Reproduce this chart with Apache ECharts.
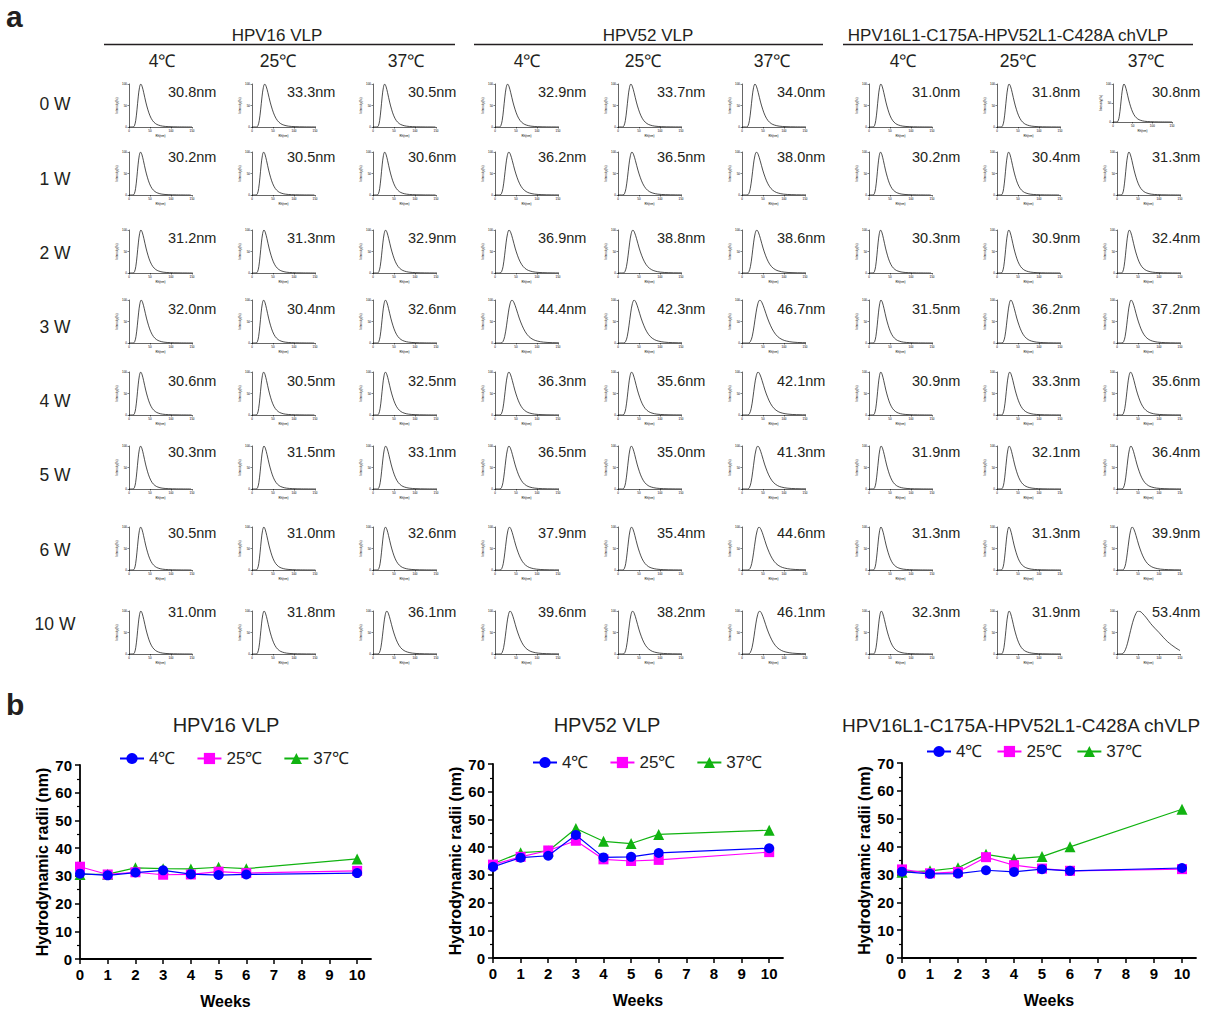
<!DOCTYPE html>
<html>
<head>
<meta charset="utf-8">
<script src="https://cdn.jsdelivr.net/npm/echarts@6.0.0/dist/echarts.min.js"></script>
<style>
html,body{margin:0;padding:0;background:#fff;}
#chart{width:1211px;height:1012px;}
</style>
</head>
<body>
<div id="chart"></div>
<script>
// ---------------- DATA ----------------
const groupNames = ['HPV16 VLP', 'HPV52 VLP', 'HPV16L1-C175A-HPV52L1-C428A chVLP'];
const tempNames = ['4℃', '25℃', '37℃'];
const weekLabels = ['0 W', '1 W', '2 W', '3 W', '4 W', '5 W', '6 W', '10 W'];
const weeks = [0, 1, 2, 3, 4, 5, 6, 10];
const weekTicks = [0, 1, 2, 3, 4, 5, 6, 7, 8, 9, 10];

const hpv16_4C  = [30.8, 30.2, 31.2, 32.0, 30.6, 30.3, 30.5, 31.0];
const hpv16_25C = [33.3, 30.5, 31.3, 30.4, 30.5, 31.5, 31.0, 31.8];
const hpv16_37C = [30.5, 30.6, 32.9, 32.6, 32.5, 33.1, 32.6, 36.1];
const hpv52_4C  = [32.9, 36.2, 36.9, 44.4, 36.3, 36.5, 37.9, 39.6];
const hpv52_25C = [33.7, 36.5, 38.8, 42.3, 35.6, 35.0, 35.4, 38.2];
const hpv52_37C = [34.0, 38.0, 38.6, 46.7, 42.1, 41.3, 44.6, 46.1];
const chvlp_4C  = [31.0, 30.2, 30.3, 31.5, 30.9, 31.9, 31.3, 32.3];
const chvlp_25C = [31.8, 30.4, 30.9, 36.2, 33.3, 32.1, 31.3, 31.9];
const chvlp_37C = [30.8, 31.3, 32.4, 37.2, 35.6, 36.4, 39.9, 53.4];

// size-distribution profiles (Rh in nm, intensity %)
const narrowRefRadius = 30.8;
const narrowRh        = [0, 10, 13, 16, 19, 22, 25, 28, 31, 35, 40, 45, 50, 56, 63, 70, 80, 95, 115, 150];
const narrowIntensity = [0, 0, 3, 15, 40, 70, 92, 100, 95, 80, 58, 40, 26, 15, 8, 4.5, 2, 0.8, 0.3, 0];
const wideRefRadius = 53.4;
const wideRh        = [0, 10, 15, 20, 25, 30, 35, 40, 45, 50, 55, 60, 70, 80, 90, 100, 110, 120, 130, 140, 150];
const wideIntensity = [0, 0, 2, 10, 25, 45, 65, 82, 94, 100, 99, 95, 84, 71, 60, 50, 39, 29, 21, 14, 8];

// ---------------- LAYOUT ----------------
const FONT = '"Liberation Sans", Arial, sans-serif';
const columns = [hpv16_4C, hpv16_25C, hpv16_37C, hpv52_4C, hpv52_25C, hpv52_37C, chvlp_4C, chvlp_25C, chvlp_37C];
const colAxisX = [129, 252, 373, 495, 618, 742, 869, 997, 1117];
const colTextX = [168, 287, 408, 538, 657, 777, 912, 1032, 1152];
const rowTop = [84, 152, 230, 300, 372, 446, 527, 611];
const rowTextY = [92, 157, 238, 309, 381, 452, 533, 612];
const rowLabelY = [104, 179, 253, 327, 401, 475, 550, 624];
const headerCenters = [277, 648, 1008];
const headerLines = [[104, 455], [474, 823], [843, 1193]];
const tempCenters = [162, 278, 406, 527, 643, 772, 903, 1018, 1146];

const grids = [], xAxes = [], yAxes = [], series = [], graphics = [];

function txt(text, x, y, size, opts) {
  opts = opts || {};
  return {
    type: 'text', silent: true,
    style: {
      text: text, x: x, y: y,
      font: (opts.weight || 'normal') + ' ' + size + 'px ' + FONT,
      fill: opts.fill || '#231f20',
      align: opts.align || 'center', textAlign: opts.align || 'center',
      verticalAlign: 'middle', textVerticalAlign: 'middle'
    }
  };
}

graphics.push(txt('a', 6, 16, 30, {weight: 'bold', align: 'left'}));
graphics.push(txt('b', 6, 704, 30, {weight: 'bold', align: 'left'}));
groupNames.forEach((g, i) => {
  graphics.push(txt(g, headerCenters[i], 35, 17));
  graphics.push({type: 'line', silent: true,
    shape: {x1: headerLines[i][0], y1: 44.5, x2: headerLines[i][1], y2: 44.5},
    style: {stroke: '#231f20', lineWidth: 1.3}});
});
for (let c = 0; c < 9; c++) graphics.push(txt(tempNames[c % 3], tempCenters[c], 61, 17.5));
weekLabels.forEach((w, r) => graphics.push(txt(w, 55, rowLabelY[r], 17.5)));

for (let r = 0; r < weeks.length; r++) {
  for (let c = 0; c < 9; c++) {
    const idx = grids.length;
    const R = columns[c][r];
    let g = {left: colAxisX[c], top: rowTop[r], width: 63, height: 43};
    if (r === 0 && c === 8) g = {left: 1113, top: 84, width: 59, height: 38};
    grids.push(g);
    const axCommon = {
      gridIndex: idx, type: 'value',
      axisLine: {lineStyle: {color: '#000', width: 0.6}},
      axisTick: {length: 1.5, lineStyle: {color: '#000', width: 0.5}},
      axisLabel: {fontSize: 3, margin: 2, color: '#000', fontFamily: FONT},
      splitLine: {show: false},
      nameLocation: 'middle',
      nameTextStyle: {fontSize: 3, color: '#000', fontFamily: FONT}
    };
    xAxes.push(Object.assign({}, axCommon, {min: 0, max: 150, interval: 50, name: 'Rh(nm)', nameGap: 7}));
    yAxes.push(Object.assign({}, axCommon, {min: 0, max: 100, interval: 50, name: 'Intensity(%)', nameGap: 8, nameRotate: 90}));
    const wide = R > 50;
    const px = wide ? wideRh : narrowRh;
    const py = wide ? wideIntensity : narrowIntensity;
    const ref = wide ? wideRefRadius : narrowRefRadius;
    series.push({
      type: 'line', xAxisIndex: idx, yAxisIndex: idx, silent: true,
      showSymbol: false, smooth: 0.35, animation: false,
      lineStyle: {color: '#000', width: 0.7},
      data: px.map((x, i) => [x * R / ref, py[i]])
    });
    graphics.push(txt(R.toFixed(1) + 'nm', colTextX[c], rowTextY[r], 14.5, {align: 'left', fill: '#231f20'}));
  }
}

// ---------------- PANEL b ----------------
const lineCharts = [
  {title: groupNames[0], data: [hpv16_4C, hpv16_25C, hpv16_37C], grid: {left: 80, top: 765, width: 291, height: 194},
   titleX: 226, titleAlign: 'center', titleSize: 20, legendLeft: 114, legendY: 745, legendGap: 21},
  {title: groupNames[1], data: [hpv52_4C, hpv52_25C, hpv52_37C], grid: {left: 493, top: 764, width: 290, height: 194},
   titleX: 607, titleAlign: 'center', titleSize: 20, legendLeft: 527, legendY: 749, legendGap: 21},
  {title: groupNames[2], data: [chvlp_4C, chvlp_25C, chvlp_37C], grid: {left: 902, top: 763, width: 294, height: 195},
   titleX: 842, titleAlign: 'left', titleSize: 19, legendLeft: 921, legendY: 738, legendGap: 14}
];
const lineColors = ['#0000ff', '#ff00ff', '#11b311'];
const lineSymbols = ['circle', 'rect', 'triangle'];
const legends = [];
const titles = [];
lineCharts.forEach((lc, k) => {
  const idx = grids.length;
  grids.push(lc.grid);
  titles.push(txt(lc.title, lc.titleX, 725, lc.titleSize, {align: lc.titleAlign}));
  xAxes.push({
    gridIndex: idx, type: 'value', min: 0, max: 10.5, interval: 1,
    name: 'Weeks', nameLocation: 'middle', nameGap: 34,
    nameTextStyle: {fontSize: 16, fontWeight: 'bold', color: '#000', fontFamily: FONT},
    axisLine: {lineStyle: {color: '#000', width: 1.8}},
    axisTick: {length: 5, lineStyle: {color: '#000', width: 1.5}, customValues: weekTicks},
    axisLabel: {fontSize: 15, fontWeight: 'bold', color: '#000', margin: 8, fontFamily: FONT, customValues: weekTicks},
    splitLine: {show: false}
  });
  yAxes.push({
    gridIndex: idx, type: 'value', min: 0, max: 70, interval: 10,
    name: 'Hydrodynamic radii (nm)', nameLocation: 'middle', nameGap: 30, nameRotate: 90,
    nameTextStyle: {fontSize: 16, fontWeight: 'bold', color: '#000', fontFamily: FONT},
    axisLine: {show: true, lineStyle: {color: '#000', width: 1.8}},
    axisTick: {show: true, length: 5, lineStyle: {color: '#000', width: 1.5}},
    minorTick: {show: true, splitNumber: 2, length: 3, lineStyle: {color: '#000', width: 1.2}},
    axisLabel: {fontSize: 15, fontWeight: 'bold', color: '#000', margin: 8, fontFamily: FONT},
    splitLine: {show: false}
  });
  lc.data.forEach((vals, t) => {
    series.push({
      type: 'line', name: tempNames[t], xAxisIndex: idx, yAxisIndex: idx,
      z: 5 - t, animation: false,
      symbol: lineSymbols[t], symbolSize: t === 2 ? 11 : 10,
      itemStyle: {color: lineColors[t]},
      lineStyle: {color: lineColors[t], width: 1.2},
      data: weeks.map((w, i) => [w, vals[i]])
    });
  });
  legends.push({
    left: lc.legendLeft, top: lc.legendY, itemWidth: 24, itemHeight: 14, itemGap: lc.legendGap,
    data: tempNames.slice(),
    textStyle: {fontSize: 17, color: '#231f20', fontFamily: FONT},
    selectedMode: false
  });
});

const chart = echarts.init(document.getElementById('chart'), null, {renderer: 'svg'});
chart.setOption({
  animation: false,
  backgroundColor: '#fff',
  textStyle: {fontFamily: FONT},
  grid: grids,
  xAxis: xAxes,
  yAxis: yAxes,
  legend: legends,
  series: series,
  graphic: graphics.concat(titles)
});
</script>
</body>
</html>
